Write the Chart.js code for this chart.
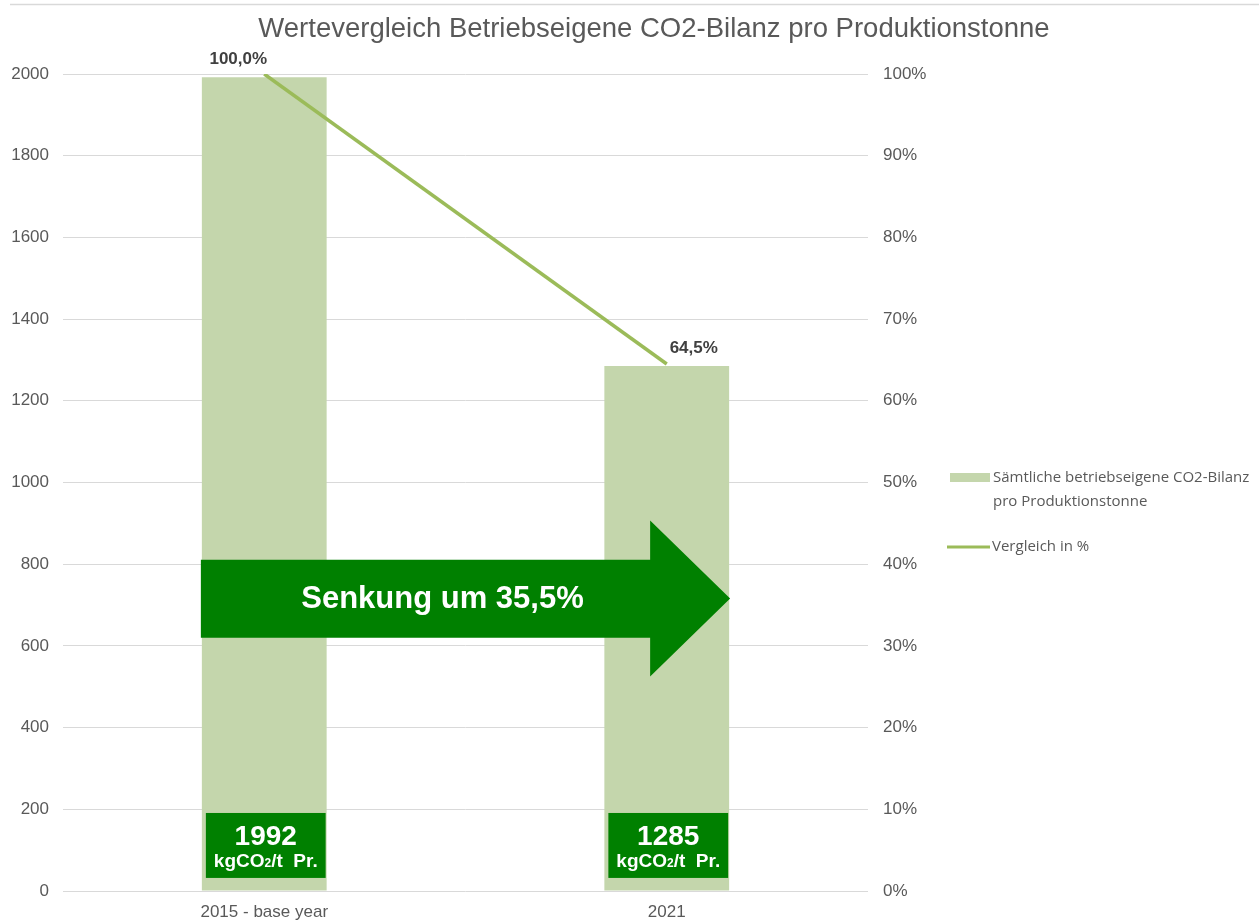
<!DOCTYPE html>
<html><head><meta charset="utf-8">
<script src="https://cdn.jsdelivr.net/npm/chart.js@4.4.1/dist/chart.umd.min.js"></script>
<style>html,body{margin:0;padding:0;background:#fff;} #wrap{position:relative;width:1259px;height:922px;} canvas{display:block}</style>
</head><body><div id="wrap"><canvas id="c" width="1259" height="922"></canvas></div>
<script>
// ---- data ----
const categories = ['2015 - base year', '2021'];
const emissionsPerTonne = [1992, 1285];
const comparisonShare = [1.0, 0.645];
const comparisonLabels = ['100,0%', '64,5%'];
const chartTitle = 'Wertevergleich Betriebseigene CO2-Bilanz pro Produktionstonne';
const seriesNames = ['Sämtliche betriebseigene CO2-Bilanz pro Produktionstonne', 'Vergleich in %'];
const legendLines = [['Sämtliche betriebseigene CO2-Bilanz', 'pro Produktionstonne'], ['Vergleich in %']];
const reductionText = 'Senkung um 35,5%';
const unitParts = ['kgCO', '2', '/t  Pr.'];
// arrow / box extents in left-axis units
const arrowBody = [620, 811];
const arrowHead = [525, 907];
const arrowTip = 716;
const boxRange = [32, 191];

const FONT = "'Liberation Sans', Arial, sans-serif";
const GREY = '#595959';
const DARK_GREEN = '#008000';
const BAR_COLOR = '#c4d6ac';
const LINE_COLOR = '#9bbb59';

Chart.defaults.font.family = FONT;

const overlay = {
  id: 'overlay',
  beforeDraw(chart) {
    const ctx = chart.ctx;
    ctx.save();
    ctx.fillStyle = '#fff';
    ctx.fillRect(0, 0, chart.width, chart.height);
    ctx.strokeStyle = '#d9d9d9';
    ctx.lineWidth = 1.5;
    ctx.beginPath(); ctx.moveTo(10, 4.5); ctx.lineTo(chart.width, 4.5); ctx.stroke();
    // title
    ctx.fillStyle = GREY;
    ctx.font = '27.5px ' + FONT;
    ctx.textAlign = 'center';
    ctx.textBaseline = 'middle';
    ctx.fillText(chartTitle, 654, 29);
    ctx.restore();
  },
  afterDatasetsDraw(chart) {
    const ctx = chart.ctx;
    const y = chart.scales.y;
    const bars = chart.getDatasetMeta(1).data;
    const pts = chart.getDatasetMeta(0).data;
    ctx.save();
    // point labels
    ctx.fillStyle = '#404040';
    ctx.font = 'bold 17px ' + FONT;
    ctx.textAlign = 'center';
    ctx.textBaseline = 'middle';
    const offs = [[-26, -15], [27, -16]];
    pts.forEach((p, i) => ctx.fillText(comparisonLabels[i], p.x + offs[i][0], p.y + offs[i][1]));
    // value boxes
    bars.forEach((b, i) => {
      const l = b.x - b.width / 2 + 4, r = b.x + b.width / 2 - 1;
      const t = y.getPixelForValue(boxRange[1]), bt = y.getPixelForValue(boxRange[0]);
      ctx.fillStyle = DARK_GREEN;
      ctx.fillRect(l, t, r - l, bt - t);
      const cx = (l + r) / 2;
      ctx.fillStyle = '#fff';
      ctx.font = 'bold 28px ' + FONT;
      ctx.textAlign = 'center';
      ctx.fillText(String(emissionsPerTonne[i]), cx, t + 24);
      const f1 = 'bold 19px ' + FONT, f2 = 'bold 12px ' + FONT;
      ctx.font = f1; const w0 = ctx.measureText(unitParts[0]).width; const w2 = ctx.measureText(unitParts[2]).width;
      ctx.font = f2; const w1 = ctx.measureText(unitParts[1]).width;
      let x = cx - (w0 + w1 + w2) / 2;
      ctx.textAlign = 'left';
      const yy = t + 49;
      ctx.font = f1; ctx.fillText(unitParts[0], x, yy); x += w0;
      ctx.font = f2; ctx.fillText(unitParts[1], x, yy + 2); x += w1;
      ctx.font = f1; ctx.fillText(unitParts[2], x, yy);
    });
    // arrow
    const b0 = bars[0], b1 = bars[1];
    const x0 = b0.x - b0.width / 2 - 1;
    const xt = b1.x + b1.width / 2 + 1;
    const xh = xt - 80;
    ctx.fillStyle = DARK_GREEN;
    ctx.beginPath();
    ctx.moveTo(x0, y.getPixelForValue(arrowBody[1]));
    ctx.lineTo(xh, y.getPixelForValue(arrowBody[1]));
    ctx.lineTo(xh, y.getPixelForValue(arrowHead[1]));
    ctx.lineTo(xt, y.getPixelForValue(arrowTip));
    ctx.lineTo(xh, y.getPixelForValue(arrowHead[0]));
    ctx.lineTo(xh, y.getPixelForValue(arrowBody[0]));
    ctx.lineTo(x0, y.getPixelForValue(arrowBody[0]));
    ctx.closePath();
    ctx.fill();
    ctx.fillStyle = '#fff';
    ctx.font = 'bold 31px ' + FONT;
    ctx.textAlign = 'center';
    ctx.textBaseline = 'middle';
    ctx.fillText(reductionText, (x0 + xt) / 2 - 23, y.getPixelForValue(arrowTip) + 1);
    ctx.restore();
  },
  afterDraw(chart) {
    const ctx = chart.ctx;
    ctx.save();
    ctx.font = "15px 'Open Sans', Lato, sans-serif";
    ctx.fillStyle = GREY;
    ctx.textAlign = 'left';
    ctx.textBaseline = 'middle';
    // bar legend
    ctx.fillStyle = BAR_COLOR;
    ctx.fillRect(950, 473, 40, 9);
    ctx.fillStyle = GREY;
    ctx.fillText(legendLines[0][0], 993, 478);
    ctx.fillText(legendLines[0][1], 993, 502);
    // line legend
    ctx.strokeStyle = LINE_COLOR;
    ctx.lineWidth = 3;
    ctx.beginPath(); ctx.moveTo(947, 547); ctx.lineTo(990, 547); ctx.stroke();
    ctx.fillText(legendLines[1][0], 992, 547);
    ctx.restore();
  }
};

new Chart(document.getElementById('c'), {
  data: {
    labels: categories,
    datasets: [
      {
        type: 'line', label: seriesNames[1], data: comparisonShare, yAxisID: 'y1',
        borderColor: LINE_COLOR, borderWidth: 3.5, pointRadius: 0, tension: 0, order: 0
      },
      {
        type: 'bar', label: seriesNames[0], data: emissionsPerTonne, yAxisID: 'y',
        backgroundColor: BAR_COLOR, categoryPercentage: 1, barPercentage: 0.31, order: 1
      }
    ]
  },
  options: {
    responsive: false,
    animation: false,
    layout: { padding: { top: 74, right: 311, bottom: 0, left: 0 } },
    plugins: { legend: { display: false }, title: { display: false }, tooltip: { enabled: false } },
    scales: {
      x: {
        type: 'category', offset: true,
        grid: { display: false, drawTicks: false }, border: { display: false },
        ticks: { color: GREY, font: { size: 17 }, padding: 11 },
        afterFit(s) { s.height = 31; }
      },
      y: {
        position: 'left', min: 0, max: 2000,
        ticks: { stepSize: 200, color: GREY, font: { size: 17 }, padding: 14, callback: v => String(v) },
        grid: { color: '#d9d9d9', lineWidth: 1, drawTicks: false }, border: { display: false },
        afterFit(s) { s.width = 63; }
      },
      y1: {
        position: 'right', min: 0, max: 1,
        ticks: { stepSize: 0.1, color: GREY, font: { size: 17 }, padding: 15,
          callback: v => Math.round(v * 100) + '%' },
        grid: { display: false, drawTicks: false }, border: { display: false },
        afterFit(s) { s.width = 80; }
      }
    }
  },
  plugins: [overlay]
});
</script></body></html>
